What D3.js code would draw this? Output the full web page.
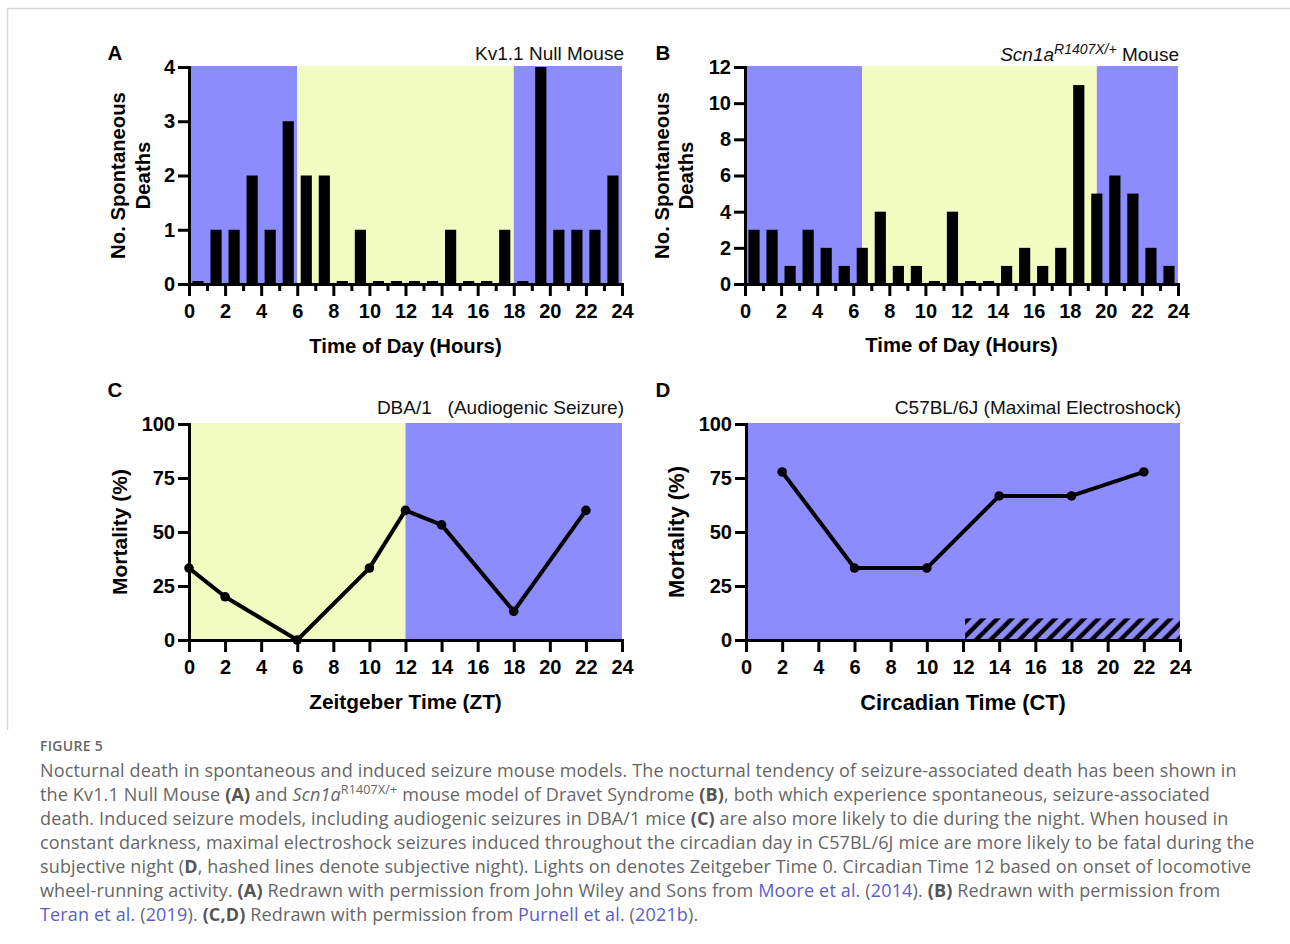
<!DOCTYPE html>
<html><head><meta charset="utf-8">
<script src="https://cdn.jsdelivr.net/npm/d3@7"></script>
<style>body{margin:0;background:#fff;} svg{display:block} text{white-space:pre}</style>
</head><body>
<svg id="fig" width="1290" height="944"></svg>
<script>
// ---------- DATA ----------
const binHours = [0.5,1.5,2.5,3.5,4.5,5.5,6.5,7.5,8.5,9.5,10.5,11.5,12.5,13.5,14.5,15.5,16.5,17.5,18.5,19.5,20.5,21.5,22.5,23.5];
const deathsA = [0,1,1,2,1,3,2,2,0,1,0,0,0,0,1,0,0,1,0,4,1,1,1,2];
const deathsB = [3,3,1,3,2,1,2,4,1,1,0,4,0,0,1,2,1,2,11,5,6,5,2,1];
const ztC = [0,2,6,10,12,14,18,22];
const mortalityC = [33.3,20,0,33.3,60,53.3,13.3,60];
const ctD = [2,6,10,14,18,22];
const mortalityD = [77.8,33.3,33.3,66.7,66.7,77.8];
const phasesA = [["dark",0,6],["light",6,18],["dark",18,24]];
const phasesB = [["dark",0,6.5],["light",6.5,19.5],["dark",19.5,24]];
const phasesC = [["light",0,12],["dark",12,24]];
const phasesD = [["dark",0,24]];
const hatchD = [12,24,0,10]; // subjective night: x from, x to, y from, y to
const xTicksMajor = [0,2,4,6,8,10,12,14,16,18,20,22,24];
const xTicksMinor = [1,3,5,7,9,11,13,15,17,19,21,23];
const yTicksA = [0,1,2,3,4];
const yTicksB = [0,2,4,6,8,10,12];
const yTicksCD = [0,25,50,75,100];

// ---------- STYLE ----------
const DARK = "#8c8cff", LIGHT = "#f3fcc0";
const FONT = "'Liberation Sans', Arial, Helvetica, sans-serif";
const svg = d3.select("#fig");

// figure frame
svg.append("path").attr("d","M7.5,730V8.5H1290").attr("fill","none").attr("stroke","#d6d6d6").attr("stroke-width",1.5);

const defs = svg.append("defs");
const pat = defs.append("pattern").attr("id","hatch").attr("patternUnits","userSpaceOnUse")
  .attr("width",10.2).attr("height",10.2).attr("patternTransform","translate(747,0) rotate(45)");
pat.append("line").attr("x1",2.5).attr("y1",-2).attr("x2",2.5).attr("y2",13).attr("stroke","#000").attr("stroke-width",4.4);

function styleAxis(g){
  g.attr("font-family",null).attr("font-size",null);
  g.select(".domain").attr("stroke","#000").attr("stroke-width",3).attr("stroke-linecap","square");
  g.selectAll(".tick line").attr("stroke","#000").attr("stroke-width",3);
  g.selectAll(".tick text").attr("font-family",FONT).attr("font-weight","bold").attr("font-size",20).attr("fill","#000");
}

function panel(cfg){
  const g = svg.append("g");
  const x = d3.scaleLinear().domain([0,24]).range([cfg.left,cfg.right]);
  const y = d3.scaleLinear().domain([0,cfg.ymax]).range([cfg.bottom,cfg.top]);
  g.selectAll("rect.bg").data(cfg.phases).join("rect").attr("class","bg")
    .attr("x",d=>x(d[1])).attr("width",d=>x(d[2])-x(d[1]))
    .attr("y",y(cfg.ymax)-1).attr("height",y(0)-y(cfg.ymax)+1)
    .attr("fill",d=>d[0]==="dark"?DARK:LIGHT);
  if(cfg.hatch){
    const h = cfg.hatch;
    g.append("rect").attr("x",x(h[0])+2).attr("width",x(h[1])-x(h[0])-2)
      .attr("y",y(h[3])).attr("height",y(h[2])-y(h[3])).attr("fill","url(#hatch)");
  }
  if(cfg.bars){
    const bw = x(0.62)-x(0);
    g.selectAll("rect.bar").data(cfg.bars).join("rect").attr("class","bar")
      .attr("x",(d,i)=>x(binHours[i])-bw/2).attr("width",bw)
      .attr("y",d=>Math.min(y(d),y(0)-3)).attr("height",d=>Math.max(y(0)-y(d),3))
      .attr("fill","#000");
  }
  if(cfg.line){
    const pts = cfg.line[0].map((t,i)=>[t,cfg.line[1][i]]);
    g.append("path").datum(pts).attr("fill","none").attr("stroke","#000").attr("stroke-width",4)
      .attr("stroke-linejoin","round").attr("d",d3.line().x(d=>x(d[0])).y(d=>y(d[1])));
    g.selectAll("circle.pt").data(pts).join("circle").attr("class","pt")
      .attr("cx",d=>x(d[0])).attr("cy",d=>y(d[1])).attr("r",4.8).attr("fill","#000");
  }
  if(cfg.minor){
    const gm = g.append("g").attr("transform",`translate(0,${cfg.bottom})`)
      .call(d3.axisBottom(x).tickValues(xTicksMinor).tickSize(7).tickSizeOuter(0).tickFormat(""));
    styleAxis(gm);
  }
  const gx = g.append("g").attr("transform",`translate(0,${cfg.bottom})`)
    .call(d3.axisBottom(x).tickValues(xTicksMajor).tickSize(12).tickSizeOuter(0).tickPadding(8).tickFormat(d3.format("d")));
  styleAxis(gx);
  const gy = g.append("g").attr("transform",`translate(${cfg.left},0)`)
    .call(d3.axisLeft(y).tickValues(cfg.yTicks).tickSize(11).tickSizeOuter(0).tickPadding(3).tickFormat(d3.format("d")));
  styleAxis(gy);
  g.append("text").attr("x",(cfg.left+cfg.right)/2).attr("y",cfg.xTitleY)
    .attr("text-anchor","middle").attr("font-family",FONT).attr("font-weight","bold").attr("font-size",cfg.xTitleSize)
    .text(cfg.xTitle);
  const cy = (cfg.top+cfg.bottom)/2;
  cfg.yTitle.forEach((t,i)=>{
    g.append("text").attr("transform",`translate(${cfg.yTitleX[i]},${cy}) rotate(-90)`)
      .attr("text-anchor","middle").attr("dy","0.35em").attr("font-family",FONT).attr("font-weight","bold").attr("font-size",cfg.yTitleSize)
      .text(t);
  });
  g.append("text").attr("x",cfg.letterX).attr("y",cfg.letterY).attr("text-anchor","middle")
    .attr("font-family",FONT).attr("font-weight","bold").attr("font-size",20.5).text(cfg.letter);
  const st = g.append("text").attr("x",cfg.subX).attr("y",cfg.subY).attr("text-anchor","end")
    .attr("font-family",FONT).attr("font-size",19).attr("fill","#111");
  cfg.sub.forEach(s=>{
    const ts = st.append("tspan").text(s[0]);
    if(s[1]==="i") ts.attr("font-style","italic");
    if(s[1]==="sup") ts.attr("font-style","italic").attr("font-size",14).attr("dy",-7);
    if(s[1]==="after") ts.attr("dy",7);
  });
}

panel({left:189,right:622,top:67,bottom:284,ymax:4,phases:phasesA,bars:deathsA,minor:true,yTicks:yTicksA,
  xTitle:"Time of Day (Hours)",xTitleY:353,xTitleSize:20.3,yTitle:["No. Spontaneous","Deaths"],yTitleX:[118,143],yTitleSize:20.3,
  letter:"A",letterX:115,letterY:60,sub:[["Kv1.1 Null Mouse",""]],subX:624,subY:60});
panel({left:745,right:1178,top:67,bottom:284,ymax:12,phases:phasesB,bars:deathsB,minor:true,yTicks:yTicksB,
  xTitle:"Time of Day (Hours)",xTitleY:352,xTitleSize:20.3,yTitle:["No. Spontaneous","Deaths"],yTitleX:[662,686],yTitleSize:20.3,
  letter:"B",letterX:663,letterY:60,sub:[["Scn1a","i"],["R1407X/+","sup"],[" Mouse","after"]],subX:1179,subY:61});
panel({left:189,right:622,top:424,bottom:640,ymax:100,phases:phasesC,line:[ztC,mortalityC],minor:false,yTicks:yTicksCD,
  xTitle:"Zeitgeber Time (ZT)",xTitleY:709,xTitleSize:20.8,yTitle:["Mortality (%)"],yTitleX:[120],yTitleSize:21,
  letter:"C",letterX:115,letterY:397,sub:[["DBA/1   (Audiogenic Seizure)",""]],subX:624,subY:414});
panel({left:746,right:1180,top:424,bottom:640,ymax:100,phases:phasesD,line:[ctD,mortalityD],hatch:hatchD,minor:false,yTicks:yTicksCD,
  xTitle:"Circadian Time (CT)",xTitleY:710,xTitleSize:21.8,yTitle:["Mortality (%)"],yTitleX:[676],yTitleSize:22,
  letter:"D",letterX:663,letterY:397,sub:[["C57BL/6J (Maximal Electroshock)",""]],subX:1181,subY:414});

// ---------- CAPTION ----------
const CAPFONT = "'Open Sans', 'Noto Sans', sans-serif";
svg.append("text").attr("x",40).attr("y",751).attr("font-family",CAPFONT).attr("font-size",14)
  .attr("font-weight",600).attr("fill","#666").attr("letter-spacing",0.3).text("FIGURE 5");
const captionLines = [
  [["Nocturnal death in spontaneous and induced seizure mouse models. The nocturnal tendency of seizure-associated death has been shown in","n"]],
  [["the Kv1.1 Null Mouse ","n"],["(A)","b"],[" and ","n"],["Scn1a","i"],["R1407X/+","s"],[" mouse model of Dravet Syndrome ","r"],["(B)","b"],[", both which experience spontaneous, seizure-associated","n"]],
  [["death. Induced seizure models, including audiogenic seizures in DBA/1 mice ","n"],["(C)","b"],[" are also more likely to die during the night. When housed in","n"]],
  [["constant darkness, maximal electroshock seizures induced throughout the circadian day in C57BL/6J mice are more likely to be fatal during the","n"]],
  [["subjective night (","n"],["D","b"],[", hashed lines denote subjective night). Lights on denotes Zeitgeber Time 0. Circadian Time 12 based on onset of locomotive","n"]],
  [["wheel-running activity. ","n"],["(A)","b"],[" Redrawn with permission from John Wiley and Sons from ","n"],["Moore et al.","l"],[" (","n"],["2014","l"],["). ","n"],["(B)","b"],[" Redrawn with permission from","n"]],
  [["Teran et al.","l"],[" (","n"],["2019","l"],["). ","n"],["(C,D)","b"],[" Redrawn with permission from ","n"],["Purnell et al.","l"],[" (","n"],["2021b","l"],[").","n"]]
];
captionLines.forEach((line,i)=>{
  const t = svg.append("text").attr("x",40).attr("y",777+i*24).attr("font-family",CAPFONT)
    .attr("font-size",18).attr("letter-spacing",0.15).attr("fill","#666");
  line.forEach(seg=>{
    const ts = t.append("tspan").text(seg[0]);
    if(seg[1]==="b") ts.attr("font-weight",700).attr("fill","#555");
    if(seg[1]==="i") ts.attr("font-style","italic");
    if(seg[1]==="s") ts.attr("font-size",12.5).attr("dy",-7);
    if(seg[1]==="r") ts.attr("dy",7);
    if(seg[1]==="l") ts.attr("fill","#5a5ec8");
  });
});
</script>
</body></html>
